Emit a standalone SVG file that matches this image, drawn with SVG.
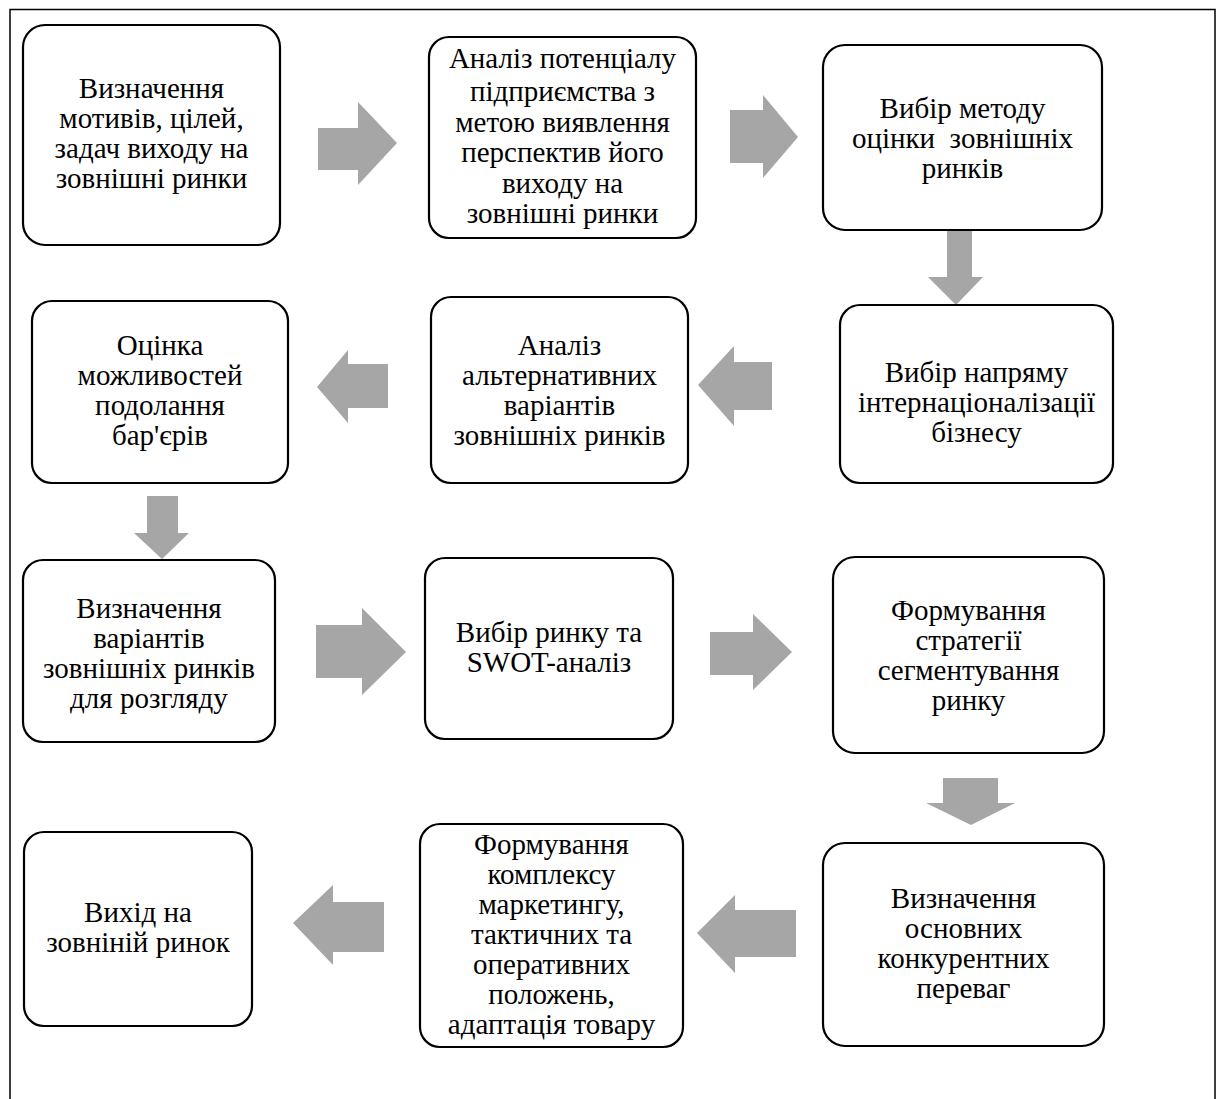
<svg xmlns="http://www.w3.org/2000/svg" width="1220" height="1099" viewBox="0 0 1220 1099">
<style>
.box{fill:#fff;stroke:#000;stroke-width:2.2}
.arr{fill:#a6a6a6;stroke:none}
text{font-family:"Liberation Serif","Times New Roman",serif;font-size:29px;fill:#000;text-anchor:middle}
</style>
<rect x="0" y="0" width="1220" height="1099" fill="#fff"/>
<rect x="10" y="9.5" width="1205" height="1110" fill="none" stroke="#000" stroke-width="1.5"/>
<g id="connectors">
<polygon class="arr" points="318,128 358,128 358,102 397,143 358,185 358,170 318,170"/>
<polygon class="arr" points="730,110 763,110 763,95 798,137 763,178 763,163 730,163"/>
<polygon class="arr" points="947,231 972,231 972,277 983,277 956,305 928,277 947,277"/>
<polygon class="arr" points="772,362 734,362 734,346 698,385 734,426 734,410 772,410"/>
<polygon class="arr" points="388,364 348,364 348,350 317,387 348,423 348,408 388,408"/>
<polygon class="arr" points="147,496 178,496 178,533 189,533 162,559 134,533 147,533"/>
<polygon class="arr" points="316,625 362,625 362,608 406,652 362,695 362,678 316,678"/>
<polygon class="arr" points="710,632 753,632 753,614 792,652 753,690 753,675 710,675"/>
<polygon class="arr" points="943,778 998,778 998,803 1015,803 971,825 926,803 943,803"/>
<polygon class="arr" points="796,910 735,910 735,895 697,933 735,973 735,957 796,957"/>
<polygon class="arr" points="384,902 333,902 333,885 293,923 333,965 333,952 384,952"/>
</g>
<g id="n1"><rect class="box" x="23" y="25" width="257" height="220" rx="22"/>
<text x="151.5" y="98">Визначення</text><text x="151.5" y="128">мотивів, цілей,</text><text x="151.5" y="158">задач виходу на</text><text x="151.5" y="188">зовнішні ринки</text></g>
<g id="n2"><rect class="box" x="429" y="37" width="267" height="201" rx="20"/>
<text x="562.5" y="68">Аналіз потенціалу</text><text x="562.5" y="101">підприємства з</text><text x="562.5" y="132">метою виявлення</text><text x="562.5" y="162">перспектив його</text><text x="562.5" y="193">виходу на</text><text x="562.5" y="223">зовнішні ринки</text></g>
<g id="n3"><rect class="box" x="823" y="45" width="279" height="185" rx="22"/>
<text x="962.5" y="118">Вибір методу</text><text x="962.5" y="148" style="white-space:pre">оцінки  зовнішніх</text><text x="962.5" y="178">ринків</text></g>
<g id="n4"><rect class="box" x="840" y="305" width="273" height="178" rx="20"/>
<text x="976.5" y="382">Вибір напряму</text><text x="976.5" y="412">інтернаціоналізації</text><text x="976.5" y="442">бізнесу</text></g>
<g id="n5"><rect class="box" x="431" y="297" width="257" height="186" rx="20"/>
<text x="559.5" y="355">Аналіз</text><text x="559.5" y="385">альтернативних</text><text x="559.5" y="415">варіантів</text><text x="559.5" y="445">зовнішніх ринків</text></g>
<g id="n6"><rect class="box" x="32" y="301" width="256" height="182" rx="20"/>
<text x="160" y="355">Оцінка</text><text x="160" y="385">можливостей</text><text x="160" y="415">подолання</text><text x="160" y="445">бар'єрів</text></g>
<g id="n7"><rect class="box" x="23" y="560" width="252" height="182" rx="20"/>
<text x="149" y="618">Визначення</text><text x="149" y="648">варіантів</text><text x="149" y="678">зовнішніх ринків</text><text x="149" y="708">для розгляду</text></g>
<g id="n8"><rect class="box" x="425" y="558" width="248" height="181" rx="20"/>
<text x="549" y="642">Вибір ринку та</text><text x="549" y="672">SWOT-аналіз</text></g>
<g id="n9"><rect class="box" x="833" y="557" width="271" height="196" rx="22"/>
<text x="968.5" y="620">Формування</text><text x="968.5" y="650">стратегії</text><text x="968.5" y="680">сегментування</text><text x="968.5" y="710">ринку</text></g>
<g id="n10"><rect class="box" x="823" y="843" width="281" height="203" rx="22"/>
<text x="963.5" y="908">Визначення</text><text x="963.5" y="938">основних</text><text x="963.5" y="968">конкурентних</text><text x="963.5" y="998">переваг</text></g>
<g id="n11"><rect class="box" x="420" y="824" width="263" height="223" rx="20"/>
<text x="551.5" y="854">Формування</text><text x="551.5" y="884">комплексу</text><text x="551.5" y="914">маркетингу,</text><text x="551.5" y="944">тактичних та</text><text x="551.5" y="974">оперативних</text><text x="551.5" y="1004">положень,</text><text x="551.5" y="1034">адаптація товару</text></g>
<g id="n12"><rect class="box" x="24" y="832" width="228" height="194" rx="20"/>
<text x="138" y="922">Вихід на</text><text x="138" y="952">зовніній ринок</text></g>
</svg>
